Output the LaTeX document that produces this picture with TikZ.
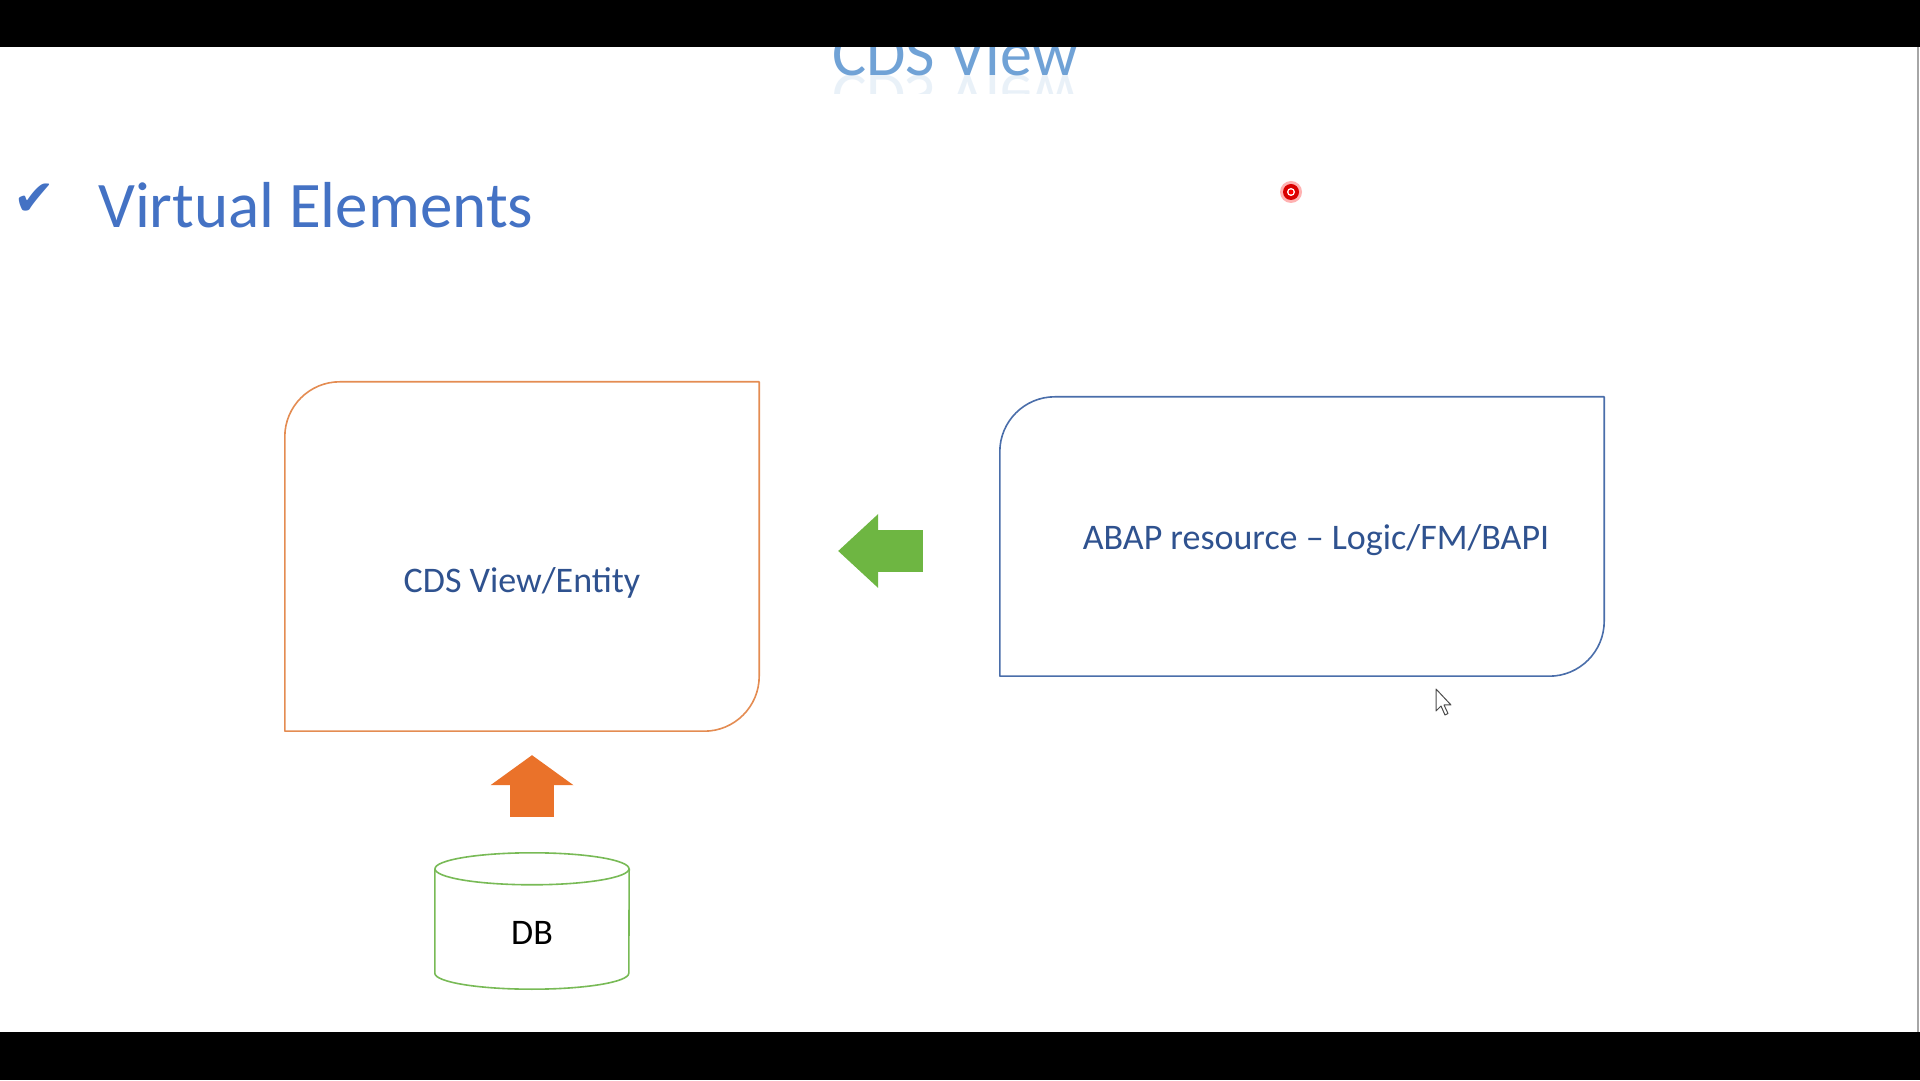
\documentclass[tikz,border=0pt]{standalone}
\usepackage{fontspec}
\setmainfont{Carlito}
\newfontfamily\tickfont{DejaVu Sans}
\usepackage{tikz}
\usetikzlibrary{arrows.meta}

\definecolor{titleblue}{RGB}{112,162,214}
\definecolor{headblue}{RGB}{68,114,196}
\definecolor{textblue}{RGB}{47,82,143}
\definecolor{boxorange}{RGB}{228,140,82}
\definecolor{boxblue}{RGB}{74,110,170}
\definecolor{dbgreen}{RGB}{120,186,86}
\definecolor{arroworange}{RGB}{234,114,42}
\definecolor{arrowgreen}{RGB}{110,182,66}

\begin{document}
\begin{tikzpicture}[x=1pt,y=1pt,
    panel/.style={inner sep=0pt},
    lbl/.style={anchor=base,text=textblue,font=\fontsize{36}{43}\selectfont},
    edgeline/.style={line width=1.6pt,line join=round},
    titletext/.style={anchor=base,text=titleblue,font=\fontsize{64}{72}\selectfont}]
      \fill[white] (0,0) rectangle (1920,1080);
      \useasboundingbox (0,0) rectangle (1920,1080);

      \node[titletext]                    (title)  at (955,1004) {CDS View};
      \begin{scope}
        \clip (800,986) rectangle (1110,1004);
        \node[titletext,yscale=-1,opacity=0.15] (mirror) at (955,1004) {CDS View};
      \end{scope}
      \node[text=headblue,font=\tickfont\fontsize{50}{56}\selectfont] (tick) at (34,880) {✔};
      \node[anchor=base west,inner sep=0pt,text=headblue,font=\fontsize{65}{72}\selectfont]
            (head) at (98,852) {Virtual Elements};

      \node[panel,minimum width=474pt,minimum height=349pt] (cds)  at (522,523.5) {};
      \node[panel,minimum width=604pt,minimum height=279pt] (abap) at (1302,543.5) {};
      \node[panel,minimum width=194pt,minimum height=136pt] (db)   at (532,159) {};

      \draw[edgeline,boxorange] ([xshift=55pt]cds.north west) -- (cds.north east)
            -- ([yshift=55pt]cds.south east) arc[start angle=0,end angle=-90,radius=55pt]
            -- (cds.south west) -- ([yshift=-55pt]cds.north west)
            arc[start angle=180,end angle=90,radius=55pt] -- cycle;
      \draw[edgeline,boxblue] ([xshift=55pt]abap.north west) -- (abap.north east)
            -- ([yshift=55pt]abap.south east) arc[start angle=0,end angle=-90,radius=55pt]
            -- (abap.south west) -- ([yshift=-55pt]abap.north west)
            arc[start angle=180,end angle=90,radius=55pt] -- cycle;
      \draw[edgeline,dbgreen,fill=white] ([yshift=-16pt]db.north west) -- ([yshift=16pt]db.south west)
            arc[start angle=180,end angle=360,x radius=97pt,y radius=16pt] -- ([yshift=-16pt]db.north east);
      \draw[edgeline,dbgreen] ([yshift=-16pt]db.north) ellipse[x radius=97pt,y radius=16pt];

      \node[lbl]         (cdslbl)  at ([yshift=-36pt]cds.center)             {CDS View/Entity};
      \node[lbl]         (abaplbl) at ([xshift=14pt,yshift=-13.5pt]abap.center) {ABAP resource -- Logic/FM/BAPI};
      \node[lbl,text=black] (dblbl) at ([yshift=-23pt]db.center)             {DB};

      \coordinate (gtail) at ([yshift=-14.5pt]abap.west);
      \coordinate (ghead) at (cds.east |- gtail);
      \draw[arroworange,line width=44pt,shorten <=36pt,shorten >=24pt,
            -{Triangle[length=30pt,width=83pt,line width=0pt]}] (db.north) -- (db.north |- cds.south);
      \draw[arrowgreen,line width=42pt,shorten <=77pt,shorten >=79pt,
            -{Triangle[length=40pt,width=74pt,line width=0pt]}] (gtail) -- (ghead);

      \fill[red!30]       (1291,888) circle[radius=11pt];
      \fill[red!85!black] (1291,888) circle[radius=8pt];
      \fill[white]        (1291,888) circle[radius=4pt];
      \fill[red]          (1291,888) circle[radius=2.5pt];
      \draw[gray!60!black,fill=white,line width=1pt,line join=round] (1436,391) -- ++(0,-22)
            -- ++(5,5) -- ++(4,-9) -- ++(3,1.5) -- ++(-4,8.5) -- ++(7,0) -- cycle;

      \fill[black] (0,1033) rectangle (1920,1080);
      \fill[black] (0,0) rectangle (1920,48);
      \draw[gray!70,line width=1.5pt] (1918,48) -- (1918,1033);
\end{tikzpicture}
\end{document}
